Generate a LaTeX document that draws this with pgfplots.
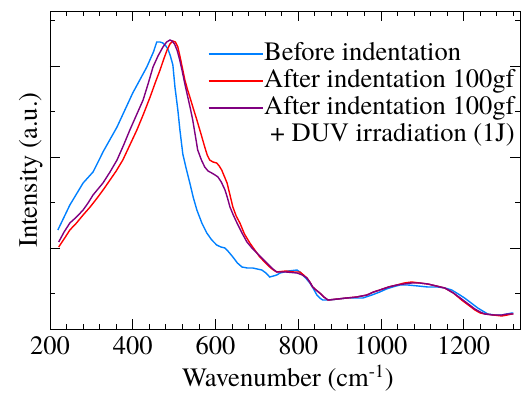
\documentclass[border=0pt]{standalone}
\usepackage{fontspec}
\setmainfont{TeX Gyre Termes}
\usepackage{pgfplots}
\usepackage{pgfplotstable}
\pgfplotsset{compat=1.18}
\definecolor{cblue}{RGB}{0,128,255}
\definecolor{cred}{RGB}{255,0,0}
\definecolor{cpurple}{RGB}{128,0,128}

\pgfplotstableread{
w y
219 99
248 124
280 146
304 157
321 171
328 177
362 202
400 236
434 262
450 277
458 287
466 287
473 286
480 283
485 280
491 273
497 264
502 242
509 219
514 199
521 175
530 159
538 146
546 132
555 119
567 106
579 96
591 89
603 84
613 82
623 81
632 77
642 72
653 66
664 62
677 61
690 61
712 59
722 56
731 52
740 53
748 54
756 56
776 58
797 59
804 57
811 54
820 50
828 46
837 40
845 34
852 31
859 29
876 29
917 31
956 31
978 34
997 37
1013 40
1028 42
1046 44
1065 44
1090 43
1113 42
1137 42
1155 41
1171 39
1187 35
1202 31
1218 26
1234 21
1246 18
1258 15
1275 14
1292 14
1305 15
1316 16
1320 16
}\tblue

\pgfplotstableread{
w y
221 82
234 90
248 99
264 106
280 114
297 122
314 131
330 140
345 149
360 158
376 169
393 184
410 199
426 215
442 232
455 247
466 259
475 270
483 279
490 285
497 288
503 287
509 282
515 271
521 259
526 249
532 240
538 232
546 221
555 209
565 195
574 182
580 174
586 169
594 167
603 166
609 163
615 159
621 153
628 146
635 134
642 122
650 113
659 106
670 95
683 86
695 79
707 72
719 67
731 62
740 59
748 57
770 58
790 57
804 57
813 54
821 51
828 47
835 42
843 39
852 36
862 32
872 29
895 30
917 31
941 32
966 34
982 37
997 39
1018 42
1038 44
1056 46
1074 47
1094 46
1113 45
1134 43
1154 41
1175 36
1195 29
1211 24
1227 19
1240 16
1251 15
1272 14
1292 13
1305 14
1316 15
1320 15
}\tred

\pgfplotstableread{
w y
221 87
234 97
248 106
264 112
280 119
292 126
304 134
316 140
328 146
345 157
362 169
378 184
393 199
409 214
425 229
437 245
449 262
461 273
473 282
482 287
490 289
495 288
501 285
507 279
513 270
519 259
526 245
533 232
539 221
545 209
551 194
557 179
566 169
574 162
582 158
591 156
599 154
606 152
614 147
623 139
629 131
635 122
643 114
652 106
664 96
676 87
688 81
700 76
712 71
724 66
736 61
748 57
770 57
797 56
810 54
821 51
828 47
835 42
843 39
852 36
862 32
872 29
895 30
917 31
941 32
966 34
982 37
997 39
1018 42
1038 44
1056 45
1074 46
1094 46
1113 45
1134 43
1154 41
1175 36
1195 30
1211 25
1227 20
1240 17
1251 15
1272 14
1292 14
1305 15
1316 15
1320 15
}\tpurple

\begin{document}
\fontsize{26.5}{30}\selectfont
\begin{tikzpicture}
\useasboundingbox (0,0) rectangle (522pt,392pt);
\begin{axis}[
  at={(50pt,63pt)}, anchor=south west,
  scale only axis, width=470pt, height=318pt,
  xmin=200, xmax=1336, ymin=0, ymax=318,
  xtick={200,400,...,1200},
  minor xtick={200,240,...,1320},
  ytick={81,172,263}, minor ytick={36,127,218,309},
  yticklabels={},
  tick align=inside,
  major tick length=10pt, minor tick length=5pt,
  xtick pos=both, ytick pos=both,
  axis line style={line width=0.8pt},
  every tick/.style={black, line width=0.8pt},
  /pgf/number format/assume math mode=true,
  /pgf/number format/1000 sep={},
  xticklabel style={anchor=base, yshift=-25pt, inner sep=0pt},
  xlabel={Wavenumber (cm\textsuperscript{-1})},
  xlabel style={at={(axis description cs:0.506,-0.18)}, anchor=base, inner sep=0pt},
  ylabel={Intensity (a.u.)},
  ylabel style={at={(axis description cs:-0.0277,0.5)}, anchor=base, inner sep=0pt},
  legend style={at={(axis description cs:0.336,0.9025)}, anchor=north west,
    draw=none, fill=none, inner sep=0pt, outer sep=0pt,
    row sep=3pt, column sep=1pt,
    nodes={inner sep=0pt, text height=18pt, text depth=6pt},
    font=\fontsize{26.5}{30}\selectfont},
  legend cell align=left,
  legend image code/.code={\draw[#1, line width=1.2pt] (0pt,0pt) -- (54pt,0pt);},
]
\addplot[cblue, line width=1.4pt] table[x=w, y=y] {\tblue};
\addlegendentry{Before indentation}
\addplot[cred, line width=1.4pt] table[x=w, y=y] {\tred};
\addlegendentry{After indentation 100gf}
\addplot[cpurple, line width=1.4pt] table[x=w, y=y] {\tpurple};
\addlegendentry{After indentation 100gf}
\addlegendimage{empty legend}
\addlegendentry{\hspace{6pt}+ DUV irradiation (1J)}
\end{axis}
\end{tikzpicture}
\end{document}
